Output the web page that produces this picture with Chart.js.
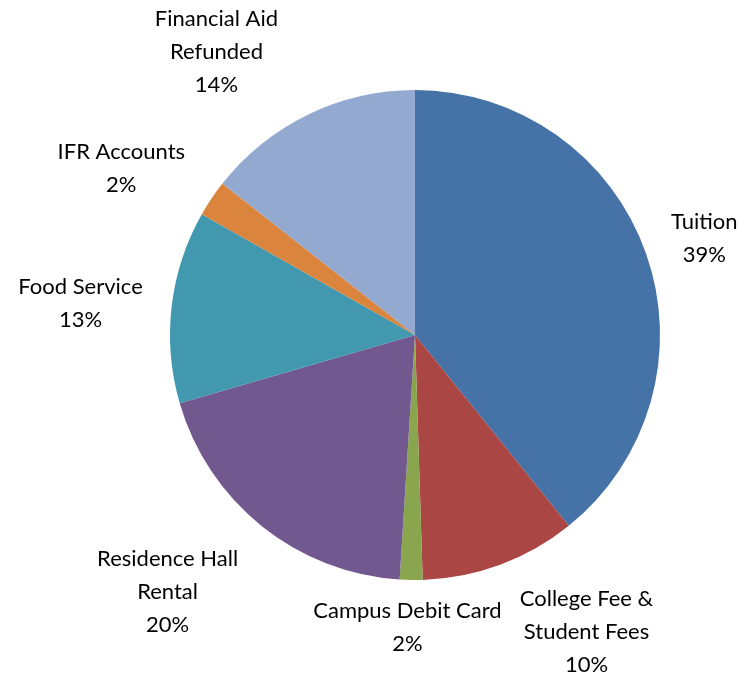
<!DOCTYPE html>
<html>
<head>
<meta charset="utf-8">
<script src="https://cdn.jsdelivr.net/npm/chart.js@4.4.0/dist/chart.umd.min.js"></script>
<style>
  body { margin: 0; background: #fff; }
  #wrap { width: 747px; height: 673px; }
</style>
</head>
<body>
<div id="wrap"><canvas id="pieChart" width="747" height="673"></canvas></div>
<script>
  // categories, clockwise from 12 o'clock
  var categories = [
    ['Tuition'],
    ['College Fee &', 'Student Fees'],
    ['Campus Debit Card'],
    ['Residence Hall', 'Rental'],
    ['Food Service'],
    ['IFR Accounts'],
    ['Financial Aid', 'Refunded']
  ];
  // share of total (percent)
  var shares = [39.2, 10.3, 1.5, 19.5, 12.7, 2.4, 14.4];
  var sliceColors = ['#4572A7', '#AA4643', '#89A54E', '#71588F', '#4198AF', '#DB843D', '#93A9CF'];

  // label nudges (px) to mimic the spreadsheet's label placement
  var labelNudge = [[7, 3], [58, -9], [-3, 1], [-35, -8], [-14, 6], [-21, 16], [-55, 12]];

  var LINE_H = 33;
  var FONT = '22px Lato, "Open Sans", sans-serif';

  var outsideLabels = {
    id: 'outsideLabels',
    afterDraw: function (chart) {
      var ctx = chart.ctx;
      var meta = chart.getDatasetMeta(0);
      var data = chart.data.datasets[0].data;
      var total = data.reduce(function (a, b) { return a + b; }, 0);
      ctx.save();
      ctx.font = FONT;
      ctx.fillStyle = '#000';
      ctx.textAlign = 'center';
      ctx.textBaseline = 'middle';
      meta.data.forEach(function (arc, i) {
        var p = arc.getProps(['x', 'y', 'startAngle', 'endAngle', 'outerRadius'], true);
        var mid = (p.startAngle + p.endAngle) / 2;
        var cx = Math.cos(mid), cy = Math.sin(mid);
        var pct = Math.round(data[i] / total * 100 + 1e-9) + '%';
        var lines = categories[i].concat([pct]);
        var w = 0;
        lines.forEach(function (t) { w = Math.max(w, ctx.measureText(t).width); });
        var h = lines.length * LINE_H;
        var d = p.outerRadius + 12 + Math.abs(cx) * w / 2 + Math.abs(cy) * h / 2;
        var lx = p.x + cx * d + labelNudge[i][0];
        var ly = p.y + cy * d + labelNudge[i][1];
        lines.forEach(function (t, k) {
          ctx.fillText(t, lx, ly + (k - (lines.length - 1) / 2) * LINE_H);
        });
      });
      ctx.restore();
    }
  };

  var ctx = document.getElementById('pieChart').getContext('2d');
  var pieChart = new Chart(ctx, {
    type: 'pie',
    data: {
      labels: categories,
      datasets: [{
        data: shares,
        backgroundColor: sliceColors,
        borderWidth: 0,
        hoverBorderWidth: 0,
        hoverOffset: 0
      }]
    },
    options: {
      responsive: false,
      animation: false,
      layout: { padding: { left: 170, right: 87, top: 90, bottom: 93 } },
      plugins: {
        legend: { display: false },
        tooltip: { enabled: false }
      }
    },
    plugins: [outsideLabels]
  });
</script>
</body>
</html>
